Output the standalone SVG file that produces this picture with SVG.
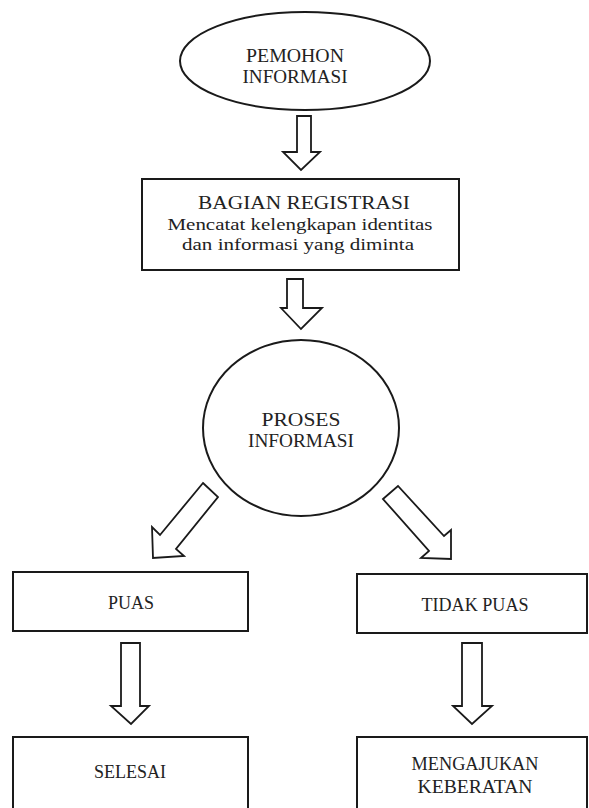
<svg xmlns="http://www.w3.org/2000/svg" width="589" height="808" viewBox="0 0 589 808">
<style>
.shape{fill:#fff;stroke:#1a1a1a;stroke-width:2}
.arrow{fill:#fff;stroke:#1a1a1a;stroke-width:1.8;stroke-linejoin:miter}
.t{font-family:"Liberation Serif","Times New Roman",serif;fill:#222;text-anchor:middle}
.big{font-size:18px}
.sm{font-size:17px}
</style>
<rect x="0" y="0" width="589" height="808" fill="#fff"/>
<g id="pemohon">
<ellipse class="shape" cx="305" cy="61" rx="125" ry="49"/>
<text class="t big" x="295" y="62" textLength="98" lengthAdjust="spacingAndGlyphs">PEMOHON</text>
<text class="t big" x="295" y="83" textLength="105" lengthAdjust="spacingAndGlyphs">INFORMASI</text>
</g>
<g id="registrasi">
<rect class="shape" x="142" y="179" width="317" height="91"/>
<text class="t big" x="304" y="209" textLength="212" lengthAdjust="spacingAndGlyphs">BAGIAN REGISTRASI</text>
<text class="t sm" x="300" y="230" textLength="265" lengthAdjust="spacingAndGlyphs">Mencatat kelengkapan identitas</text>
<text class="t sm" x="298" y="250" textLength="232" lengthAdjust="spacingAndGlyphs">dan informasi yang diminta</text>
</g>
<g id="proses">
<ellipse class="shape" cx="301" cy="428" rx="98" ry="88"/>
<text class="t big" x="301" y="426" textLength="79" lengthAdjust="spacingAndGlyphs">PROSES</text>
<text class="t big" x="301" y="447" textLength="106" lengthAdjust="spacingAndGlyphs">INFORMASI</text>
</g>
<g id="puas">
<rect class="shape" x="13" y="572" width="235" height="59"/>
<text class="t big" x="131" y="609" textLength="46" lengthAdjust="spacingAndGlyphs">PUAS</text>
</g>
<g id="tidak-puas">
<rect class="shape" x="357" y="574" width="230" height="59"/>
<text class="t big" x="475" y="611" textLength="107" lengthAdjust="spacingAndGlyphs">TIDAK PUAS</text>
</g>
<g id="selesai">
<rect class="shape" x="13" y="737" width="235" height="90"/>
<text class="t big" x="130" y="778" textLength="72" lengthAdjust="spacingAndGlyphs">SELESAI</text>
</g>
<g id="keberatan">
<rect class="shape" x="357" y="737" width="230" height="90"/>
<text class="t big" x="475" y="770" textLength="127" lengthAdjust="spacingAndGlyphs">MENGAJUKAN</text>
<text class="t big" x="475" y="793" textLength="115" lengthAdjust="spacingAndGlyphs">KEBERATAN</text>
</g>
<g id="connectors">
<polygon class="arrow" points="297,116 311,116 311,152 320,152 301,170 283,152 297,152"/>
<polygon class="arrow" points="287,279 303,279 303,308 322,308 301,329 281,308 287,308"/>
<polygon class="arrow" points="203,483 218,497 176,549 184,556 153,558 152,527 160,535"/>
<polygon class="arrow" points="383,499 398,486 444,536 451,530 451,559 421,558 429,551"/>
<polygon class="arrow" points="121,643 140,643 140,706 149,706 131,724 111,706 121,706"/>
<polygon class="arrow" points="462,643 482,643 482,706 492,706 472,724 453,706 462,706"/>
</g>
</svg>
